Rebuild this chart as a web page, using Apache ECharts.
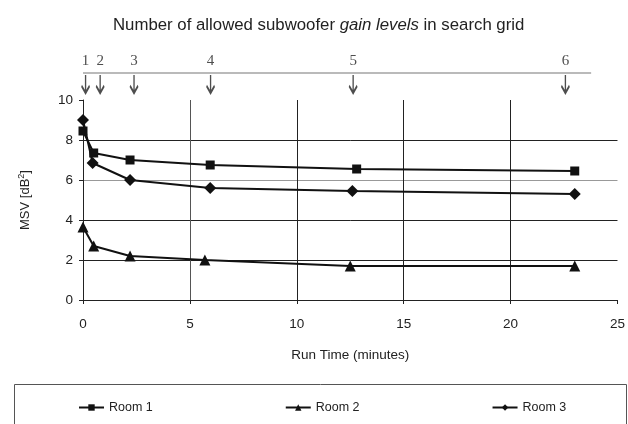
<!DOCTYPE html>
<html><head><meta charset="utf-8">
<script src="https://cdn.jsdelivr.net/npm/echarts@6/dist/echarts.min.js"></script>
<style>html,body{margin:0;padding:0;background:#fff}#c{width:628px;height:424px}</style>
</head><body><div id="c"></div>
<script>
// Data
const room1 = [[0,8.45],[0.5,7.35],[2.2,7.0],[5.95,6.75],[12.8,6.55],[23,6.45]];
const room2 = [[0,3.65],[0.5,2.7],[2.2,2.2],[5.7,2.0],[12.5,1.7],[23,1.7]];
const room3 = [[0,9.0],[0.45,6.85],[2.2,6.0],[5.95,5.6],[12.6,5.45],[23,5.3]];
const seriesNames = ['Room 1','Room 2','Room 3'];
const markerX = [0.12,0.8,2.38,5.95,12.6,22.5];
const markerLabels = ['1','2','3','4','5','6'];
const topLineExtent = [0,23.7];

const chart = echarts.init(document.getElementById('c'), null, {renderer:'canvas'});
const txt = '#222';
const font = 'Liberation Sans, Arial, sans-serif';
const arrowPath = 'path://M5,0 L5,20 M0.5,12 L5,20 L9.5,12';

const option = {
  animation:false,
  backgroundColor:'#fff',
  title:{
    text:'{a|Number of allowed subwoofer }{i|gain levels}{a| in search grid}',
    left:108, top:12,
    textStyle:{rich:{
      a:{fontFamily:font,fontSize:16.8,color:txt,fontWeight:'normal'},
      i:{fontFamily:font,fontSize:16.8,color:txt,fontStyle:'italic',fontWeight:'normal'}
    }}
  },
  grid:[
    {left:83,right:9,top:100,bottom:124},
    {left:83,right:9,top:55,height:40}
  ],
  xAxis:[
    {type:'value',gridIndex:0,min:0,max:25,interval:5,
     name:'Run Time (minutes)',nameLocation:'middle',nameGap:48,
     nameTextStyle:{fontFamily:font,fontSize:13.5,color:txt},
     axisLine:{show:true,lineStyle:{color:'#222',width:1}},
     axisTick:{show:true,length:4,lineStyle:{color:'#222'}},
     axisLabel:{fontFamily:font,fontSize:13.5,color:txt,margin:17},
     splitLine:{show:true,lineStyle:{color:['#222','#555','#222','#222','#222','rgba(0,0,0,0)'],width:1}}
    },
    {type:'value',gridIndex:1,min:0,max:25,show:false}
  ],
  yAxis:[
    {type:'value',gridIndex:0,min:0,max:10,interval:2,
     name:'{n|MSV [dB}{s|2}{n|]}',nameLocation:'middle',nameGap:50,nameRotate:90,
     nameTextStyle:{rich:{n:{fontFamily:font,fontSize:13,color:txt},s:{fontFamily:font,fontSize:9,color:txt,verticalAlign:'top',padding:[0,0,7,0]}}},
     axisLine:{show:true,lineStyle:{color:'#222',width:1}},
     axisTick:{show:true,length:4,lineStyle:{color:'#222'}},
     axisLabel:{fontFamily:font,fontSize:13.5,color:txt,margin:10},
     splitLine:{show:true,lineStyle:{color:['#222','#222','#222','#999','#222','rgba(0,0,0,0)'],width:1}}
    },
    {type:'value',gridIndex:1,min:0,max:1,show:false}
  ],
  legend:{
    data:seriesNames, left:73, top:396, itemGap:132, itemWidth:25, itemHeight:8,
    textStyle:{fontFamily:font,fontSize:12.5,color:txt}
  },
  graphic:[{type:'rect',shape:{x:14.5,y:384.5,width:612,height:60},style:{fill:'none',stroke:'#555',lineWidth:1}}],
  series:[
    {name:'Room 1',type:'line',data:room1,symbol:'rect',symbolSize:9,
     lineStyle:{color:'#111',width:2},itemStyle:{color:'#111'}},
    {name:'Room 2',type:'line',data:room2,symbol:'triangle',symbolSize:11,
     lineStyle:{color:'#111',width:2},itemStyle:{color:'#111'}},
    {name:'Room 3',type:'line',data:room3,symbol:'diamond',symbolSize:12,
     lineStyle:{color:'#111',width:2},itemStyle:{color:'#111'}},
    {type:'line',xAxisIndex:1,yAxisIndex:1,data:topLineExtent.map(x=>[x,0.55]),
     symbol:'none',lineStyle:{color:'#777',width:1.2},silent:true},
    {type:'scatter',xAxisIndex:1,yAxisIndex:1,
     data:markerX.map((x,i)=>({value:[x,0.275],label:{formatter:markerLabels[i]}})),
     symbol:arrowPath,symbolSize:[8,18],
     itemStyle:{color:'rgba(0,0,0,0)',borderColor:'#222',borderWidth:2},
     label:{show:true,position:'top',distance:5,fontFamily:'Liberation Serif, Times New Roman, serif',fontSize:15,color:'#222'},
     silent:true}
  ]
};
chart.setOption(option);
</script></body></html>
